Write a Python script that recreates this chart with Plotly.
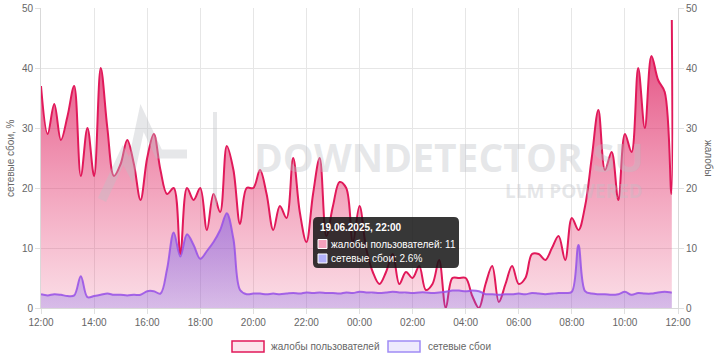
import pandas as pd
import plotly.graph_objects as go

# ---------------- data ----------------
times = list(pd.date_range("2025-06-19 12:00", periods=96, freq="15min")) + [pd.Timestamp("2025-06-20 11:46")]

complaints = [
    37, 29, 34, 28, 32, 37, 22, 30, 22, 40, 30, 22, 24, 28, 24, 18,
    25, 29, 23, 19, 20, 9, 20, 18, 20, 13, 19, 16, 27, 23, 14, 20,
    20, 23, 19, 13, 17, 15, 25, 16, 11, 19, 25, 12, 17, 21, 20, 11,
    17, 10, 6, 4, 6, 9, 4, 6, 5, 7, 3, 4, 8, 0, 5, 5,
    5, 2, 0, 4, 7, 1, 4, 7, 4, 5, 9, 9, 8, 10, 12, 8,
    15, 13, 17, 25, 33, 23, 26, 18, 29, 26, 40, 30, 42, 38, 36, 19,
    48,
]

outages = [
    2.3, 2.1, 2.3, 2.2, 2.0, 2.1, 5.3, 1.8, 2.0, 2.2, 2.4, 2.2, 2.2, 2.1, 2.2, 2.2,
    2.8, 2.8, 2.4, 6.5, 12.6, 8.6, 12.3, 10.5, 8.2, 9.5, 11.0, 13.0, 15.8, 11.5, 3.0, 2.3,
    2.4, 2.4, 2.3, 2.4, 2.3, 2.4, 2.5, 2.4, 2.6, 2.5, 2.6, 2.5, 2.5, 2.4, 2.6, 2.5,
    2.7, 2.6, 2.6, 2.5, 2.6, 2.7, 2.6, 2.6, 2.5, 2.6, 2.6, 2.5, 2.6, 2.7, 2.9, 2.9,
    2.8, 2.9, 2.8, 2.3, 2.3, 2.2, 2.3, 2.3, 2.4, 2.3, 2.5, 2.4, 2.3, 2.4, 2.5, 2.5,
    2.7, 10.5, 2.8, 2.4, 2.3, 2.3, 2.2, 2.3, 2.7, 2.2, 2.5, 2.4, 2.4, 2.6, 2.7, 2.6,
    2.6,
]

x_ticks = list(pd.date_range("2025-06-19 12:00", periods=13, freq="2h"))
y_ticks = [0, 10, 20, 30, 40, 50]

name_c = "жалобы пользователей"
name_o = "сетевые сбои"
tooltip_title = "19.06.2025, 22:00"
tooltip_c = "жалобы пользователей: 11"
tooltip_o = "сетевые сбои: 2.6%"

# ---------------- layout geometry (pixels) ----------------
W, H = 720, 360
L, R, T, B = 41, 678, 8, 308


def px(x):
    return (x - L) / (R - L)


def py(y):
    return (B - y) / (B - T)


FONT = "Liberation Sans, Arial, sans-serif"
GRAY = "#666666"
FS = 10

fig = go.Figure()

fig.add_trace(go.Scatter(
    x=times, y=complaints, name=name_c, mode="lines",
    line=dict(color="rgb(225,25,90)", width=2, shape="spline", smoothing=1),
    fill="tozeroy",
    fillgradient=dict(type="vertical", start=0, stop=45,
                      colorscale=[[0, "rgba(232,70,120,0.18)"], [1, "rgba(220,30,95,0.8)"]]),
    hoverinfo="skip", showlegend=False,
))

fig.add_trace(go.Scatter(
    x=times, y=outages, name=name_o, mode="lines",
    line=dict(color="rgba(150,80,230,0.85)", width=2, shape="spline", smoothing=1),
    fill="tozeroy",
    fillgradient=dict(type="vertical", start=0, stop=16,
                      colorscale=[[0, "rgba(125,100,235,0.28)"], [1, "rgba(125,90,230,0.55)"]]),
    hoverinfo="skip", showlegend=False,
))

# invisible trace to show right axis
fig.add_trace(go.Scatter(
    x=times, y=complaints, yaxis="y2", mode="lines",
    line=dict(width=0, color="rgba(0,0,0,0)"), hoverinfo="skip", showlegend=False,
))

axis_common = dict(
    showline=True, linecolor="#d9d9d9", linewidth=1,
    gridcolor="#e6e6e6", gridwidth=1,
    ticks="outside", ticklen=5, tickcolor="#e0e0e0",
    tickfont=dict(family=FONT, size=FS, color=GRAY),
    zeroline=False, automargin=False,
)

fig.update_layout(
    width=W, height=H,
    margin=dict(l=L, r=W - R, t=T, b=H - B, pad=0, autoexpand=False),
    paper_bgcolor="white", plot_bgcolor="white",
    hovermode=False, showlegend=False,
    xaxis=dict(range=[pd.Timestamp("2025-06-19 12:00"), pd.Timestamp("2025-06-20 12:00")],
               tickvals=x_ticks, tickformat="%H:%M", **axis_common),
    yaxis=dict(range=[0, 50], tickvals=y_ticks, **axis_common),
    yaxis2=dict(range=[0, 50], tickvals=y_ticks, overlaying="y", side="right",
                showgrid=False, **{k: v for k, v in axis_common.items() if k not in ("gridcolor", "gridwidth")}),
)

shapes = []
annotations = []

# ---- watermark ----
wm = "rgba(190,192,198,0.38)"
logo = [(102, 200), (123, 155), (131, 170), (142, 118), (159, 154), (187, 154)]
path = "M " + " L ".join(f"{px(a):.4f},{py(b):.4f}" for a, b in logo)
shapes.append(dict(type="path", xref="paper", yref="paper", path=path,
                   line=dict(color=wm, width=9), layer="above"))
shapes.append(dict(type="line", xref="paper", yref="paper",
                   x0=px(215), x1=px(215), y0=py(112), y1=py(205),
                   line=dict(color=wm, width=4), layer="above"))
annotations.append(dict(xref="paper", yref="paper", x=px(646), y=py(155.5), xanchor="right", yanchor="middle",
                        text="<b>DOWNDETECTOR SU</b>", showarrow=False, height=40,
                        font=dict(family="Open Sans, sans-serif", size=39, color=wm)))
annotations.append(dict(xref="paper", yref="paper", x=px(645), y=py(191), xanchor="right", yanchor="middle",
                        text="<b>LLM POWERED</b>", showarrow=False, height=20,
                        font=dict(family="Open Sans, sans-serif", size=19, color=wm)))

# ---- axis titles ----
annotations.append(dict(xref="paper", yref="paper", x=px(10), y=py(158), xanchor="center", yanchor="middle",
                        text="сетевые сбои, %", textangle=-90, showarrow=False,
                        font=dict(family=FONT, size=FS, color=GRAY)))
annotations.append(dict(xref="paper", yref="paper", x=px(709), y=py(158), xanchor="center", yanchor="middle",
                        text="жалобы", textangle=90, showarrow=False,
                        font=dict(family=FONT, size=FS, color=GRAY)))

# ---- custom legend ----
shapes.append(dict(type="rect", xref="paper", yref="paper", x0=px(232), x1=px(264), y0=py(341), y1=py(352),
                   line=dict(color="rgb(225,25,90)", width=1.5), fillcolor="rgba(252,228,236,1)", layer="above"))
annotations.append(dict(xref="paper", yref="paper", x=px(269), y=py(346), xanchor="left", yanchor="middle",
                        text=name_c, showarrow=False, font=dict(family=FONT, size=FS, color=GRAY)))
shapes.append(dict(type="rect", xref="paper", yref="paper", x0=px(388), x1=px(420), y0=py(341), y1=py(352),
                   line=dict(color="rgb(160,140,245)", width=1.5), fillcolor="rgba(238,234,253,1)", layer="above"))
annotations.append(dict(xref="paper", yref="paper", x=px(426), y=py(346), xanchor="left", yanchor="middle",
                        text=name_o, showarrow=False, font=dict(family=FONT, size=FS, color=GRAY)))

# ---- tooltip ----
tx0, tx1, ty0, ty1, r = 313, 459, 217, 268, 5


def P(a, b):
    return f"{px(a):.5f},{py(b):.5f}"


tip = (f"M {P(tx0 + r, ty0)} L {P(tx1 - r, ty0)} Q {P(tx1, ty0)} {P(tx1, ty0 + r)} "
       f"L {P(tx1, ty1 - r)} Q {P(tx1, ty1)} {P(tx1 - r, ty1)} L {P(tx0 + r, ty1)} "
       f"Q {P(tx0, ty1)} {P(tx0, ty1 - r)} L {P(tx0, ty0 + r)} Q {P(tx0, ty0)} {P(tx0 + r, ty0)} Z")
shapes.append(dict(type="path", xref="paper", yref="paper", path=tip,
                   fillcolor="rgba(20,20,20,0.85)", line=dict(width=0), layer="above"))
annotations.append(dict(xref="paper", yref="paper", x=px(318), y=py(227.5), xanchor="left", yanchor="middle",
                        text=f"<b>{tooltip_title}</b>", showarrow=False,
                        font=dict(family=FONT, size=FS, color="white")))
shapes.append(dict(type="rect", xref="paper", yref="paper", x0=px(318), x1=px(327), y0=py(239.5), y1=py(248.5),
                   line=dict(color="white", width=1), fillcolor="rgb(243,160,188)", layer="above"))
annotations.append(dict(xref="paper", yref="paper", x=px(329), y=py(244), xanchor="left", yanchor="middle",
                        text=tooltip_c, showarrow=False, font=dict(family=FONT, size=FS, color="white")))
shapes.append(dict(type="rect", xref="paper", yref="paper", x0=px(318), x1=px(327), y0=py(254), y1=py(263),
                   line=dict(color="white", width=1), fillcolor="rgb(178,176,250)", layer="above"))
annotations.append(dict(xref="paper", yref="paper", x=px(329), y=py(258.5), xanchor="left", yanchor="middle",
                        text=tooltip_o, showarrow=False, font=dict(family=FONT, size=FS, color="white")))

fig.update_layout(shapes=shapes, annotations=annotations)

fig.write_html("out.html", config={"displayModeBar": False, "staticPlot": True},
               post_script="document.body.style.margin='0px';document.body.style.overflow='hidden';")
